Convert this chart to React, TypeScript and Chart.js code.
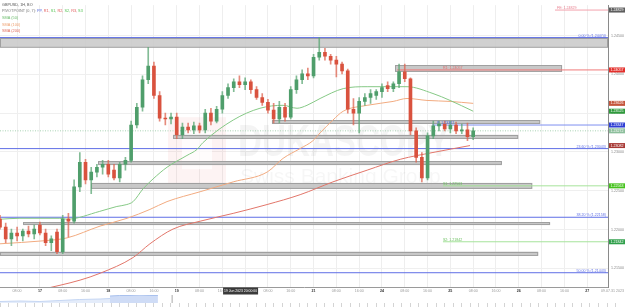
import React, { useEffect, useRef } from 'react';
import { Chart, registerables } from 'chart.js';
Chart.register(...registerables);

// ---- candles (2-hour steps, t in hours from left edge) ----
const candleTime = [0,2,4,6,8,10,12,14,16,18,20,22,24,26,28,30,32,34,36,38,40,42,44,46,48,50,52,54,56,58,60,62,64,66,68,70,72,74,76,78,80,82,84,86,88,90,92,94,96,98,100,102,104,106,108,110,112,114,116,118,120,122,124,126,128,130,132,134,136,138,140,142,144,146,148,150,152,154,156,158,160,162,164,166];
const candleOpen = [
1.22133,1.22031,1.21879,1.21955,1.21917,1.21980,1.21943,1.22057,1.21955,1.21829,1.21968,1.21715,
1.22133,1.22107,1.22550,1.22867,1.22639,1.22740,1.22803,1.22841,1.22765,1.22664,1.22841,1.22892,
1.23347,1.23576,1.23930,1.24107,1.23727,1.23436,1.23424,1.23449,1.23221,1.23322,1.23284,1.23335,
1.23284,1.23500,1.23398,1.23550,1.23727,1.23829,1.23905,1.23867,1.23905,1.23803,1.23702,1.23639,
1.23538,1.23424,1.23576,1.23449,1.23803,1.23930,1.24006,1.23981,1.24221,1.24284,1.24234,1.24183,
1.24132,1.24044,1.23550,1.23500,1.23651,1.23702,1.23727,1.23778,1.23854,1.23816,1.23879,1.24031,
1.23943,1.23272,1.22930,1.22664,1.23208,1.23335,1.23360,1.23297,1.23347,1.23272,1.23284,1.23196];
const candleHigh = [
1.22183,1.22082,1.22006,1.22031,1.22006,1.22044,1.22057,1.22095,1.22006,1.21917,1.22006,1.22183,
1.22208,1.22639,1.22993,1.22905,1.22803,1.22841,1.22892,1.22892,1.22841,1.22867,1.22930,1.23398,
1.23626,1.23981,1.24348,1.24158,1.23778,1.23500,1.23500,1.23500,1.23373,1.23373,1.23386,1.23373,
1.23550,1.23563,1.23588,1.23778,1.23879,1.23943,1.23981,1.23955,1.23930,1.23841,1.23753,1.23677,
1.23626,1.23651,1.23626,1.23841,1.23981,1.24057,1.24082,1.24259,1.24474,1.24335,1.24259,1.24234,
1.24158,1.24069,1.23689,1.23702,1.23753,1.23803,1.23803,1.23879,1.23905,1.23905,1.24132,1.24132,
1.23955,1.23310,1.22993,1.23246,1.23398,1.23398,1.23398,1.23398,1.23386,1.23360,1.23373,1.23310];
const candleLow = [
1.22006,1.21829,1.21791,1.21854,1.21854,1.21905,1.21879,1.21930,1.21791,1.21727,1.21690,1.21690,
1.21905,1.22082,1.22487,1.22588,1.22461,1.22677,1.22715,1.22677,1.22639,1.22614,1.22765,1.22867,
1.23310,1.23525,1.23879,1.23689,1.23398,1.23347,1.23360,1.23170,1.23170,1.23246,1.23234,1.23246,
1.23246,1.23347,1.23373,1.23500,1.23689,1.23778,1.23829,1.23803,1.23753,1.23677,1.23601,1.23500,
1.23373,1.23373,1.23398,1.23424,1.23753,1.23879,1.23930,1.23955,1.24183,1.24183,1.24132,1.23968,
1.24006,1.23500,1.23347,1.23246,1.23601,1.23626,1.23677,1.23702,1.23778,1.23778,1.23829,1.23905,
1.23221,1.22867,1.22614,1.22639,1.23170,1.23272,1.23272,1.23246,1.23234,1.23234,1.23145,1.23158];
const candleClose = [
1.22031,1.21879,1.21955,1.21917,1.21980,1.21943,1.22006,1.21955,1.21829,1.21879,1.21715,1.22133,
1.22107,1.22550,1.22867,1.22639,1.22740,1.22803,1.22841,1.22715,1.22664,1.22841,1.22892,1.23347,
1.23576,1.23930,1.24107,1.23727,1.23436,1.23424,1.23449,1.23221,1.23322,1.23284,1.23335,1.23284,
1.23500,1.23398,1.23550,1.23727,1.23829,1.23905,1.23867,1.23905,1.23803,1.23702,1.23639,1.23538,
1.23424,1.23576,1.23449,1.23803,1.23930,1.24006,1.23981,1.24221,1.24284,1.24234,1.24183,1.24132,
1.24044,1.23550,1.23500,1.23651,1.23702,1.23753,1.23778,1.23829,1.23816,1.23879,1.24031,1.23943,
1.23272,1.22930,1.22664,1.23208,1.23335,1.23360,1.23297,1.23347,1.23272,1.23284,1.23196,1.23272];

// ---- moving averages ----
const sma50Time = [0,7,21,23.5,35,41,44.5,46.7,50.2,53.7,58.6,65.6,69.1,71.2,81.8,91.2,99.3,104.2,107.7,112.3,120.4,128.8,139.3,142.8,151.9,157.9,166];
const sma50Value = [1.22133,1.22145,1.22145,1.22133,1.22234,1.22297,1.22322,1.22360,1.22525,1.22652,1.22803,1.22955,1.23032,1.23120,1.23411,1.23563,1.23601,1.23563,1.23601,1.23689,1.23816,1.23841,1.23841,1.23841,1.23753,1.23664,1.23525];
const sma100Time = [0,15.1,23.5,35.1,44.6,52.6,58.6,70.2,81.8,93.7,99.3,105.3,109.8,112.3,116.8,120.4,128.8,137.9,142.8,149.8,157.9,166];
const sma100Value = [1.21816,1.21854,1.21892,1.22044,1.22145,1.22259,1.22360,1.22487,1.22614,1.22740,1.22917,1.23044,1.23145,1.23246,1.23411,1.23525,1.23601,1.23651,1.23689,1.23664,1.23651,1.23626];
const sma200Time = [14,28.1,35.1,46.7,52.6,60.7,70.2,81.8,93.7,105.3,116.8,128.8,140.4,151.9,164.9];
const sma200Value = [1.21221,1.21348,1.21436,1.21639,1.21816,1.22006,1.22107,1.22208,1.22322,1.22449,1.22614,1.22765,1.22905,1.22993,1.23082];

// ---- support / resistance zones ----
const bandStart = [0,138.6,95.4,60.7,34.4,31.9,8.1,0];
const bandEnd = [213.3,197.2,189.5,181.8,176.1,186.7,193.0,188.8];
const bandHigh = [1.24474,1.24120,1.23411,1.23221,1.22880,1.22601,1.22095,1.21715];
const bandLow = [1.24348,1.24031,1.23360,1.23170,1.22830,1.22525,1.22057,1.21664];

// ---- fibonacci levels ----
const fibValues = [1.24474,1.23043,1.22158,1.21443];
const fibNames = ['0.00 %','23.60 %','38.20 %','50.00 %'];

// ---- pivot levels ----
const pivotNames = ['FE','R1','P','S1','S2'];
const pivotValues = [1.24829,1.24057,1.23347,1.22563,1.21842];
const pivotStart = [194.7,139.3,151.6,155.4,155.4];
const pivotLabelAt = [195.4,155.4,153.3,155.4,155.4];
const pivotColors = ['#f3a3ae','#f07a7a','#7f8ff0','#a6e39a','#a6e39a'];
const pivotTextColors = ['#e88090','#e06a6a','#5a6ee0','#6cc060','#6cc060'];

// ---- axis ticks ----
const yTickValues = [1.215,1.22,1.225,1.23,1.235,1.24,1.245];
const xTickValues = [6,14,22,30,38,46,54,62,70,78,86,94,102,110,118,126,134,142,150,158,166,174,182,190,198,206];
const xTickLabels = ['08:00','17','08:00','16:00','18','08:00','16:00','19','08:00','16:00','20','08:00','16:00','21','08:00','16:00','24','08:00','16:00','25','08:00','16:00','26','08:00','16:00','27'];

// ---- navigator ----
const navTimeA = [0,7,14,21,28,35.1,38.6];
const navLevelA = [1.5,2,1.5,2.5,3.5,4,4.5];
const navTimeB = [38.6,42,45.6,49.1,52.6,55.4];
const navLevelB = [7,7.5,7.5,8,7.5,7.5];
const navMarker = 60.4;

const FONT = "'Liberation Sans', Arial, sans-serif";
const GREEN = '#4f9e6b';
const RED = '#d9523e';
const SMA50C = '#86c986';
const SMA100C = '#f2ab80';
const SMA200C = '#e2766a';
const FIBC = '#5f6fe6';

const xyPairs = (ts: number[], vs: number[]) => ts.map((t, i) => ({ x: t, y: vs[i] }));
const hLine = (x0: number, x1: number, v: number, color: string, order: number, dash?: number[]) => ({
  type: 'line' as const,
  data: [{ x: x0, y: v }, { x: x1, y: v }],
  borderColor: color,
  borderWidth: 1,
  borderDash: dash || [],
  pointRadius: 0,
  order,
});

const isUp = (i: number) => i === undefined || candleClose[i] >= candleOpen[i];

const overlay = {
  id: 'overlay',
  beforeDatasetsDraw(chart: any) {
    const { ctx, chartArea: ca, scales } = chart;
    const x = scales.x, y = scales.y;
    ctx.save();
    ctx.beginPath();
    ctx.rect(ca.left, ca.top, ca.right - ca.left, ca.bottom - ca.top);
    ctx.clip();
    // watermark
    ctx.fillStyle = 'rgba(226,90,80,0.07)';
    ctx.fillRect(ca.left + 168, ca.top + 112, 58, 66);
    ctx.fillStyle = 'rgba(255,255,255,0.75)';
    ctx.fillRect(ca.left + 182, ca.top + 126, 30, 38);
    ctx.fillStyle = 'rgba(0,0,0,0.045)';
    ctx.font = `bold 44px ${FONT}`;
    ctx.textBaseline = 'alphabetic';
    ctx.textAlign = 'left';
    ctx.fillText('DUKASCOPY', ca.left + 238, ca.top + 151, 212);
    ctx.fillStyle = 'rgba(0,0,0,0.035)';
    ctx.font = `21px ${FONT}`;
    ctx.fillText('Swiss Banking Group', ca.left + 240, ca.top + 178, 210);
    // zones
    for (let i = 0; i < bandStart.length; i++) {
      const x0 = x.getPixelForValue(bandStart[i]);
      const x1 = x.getPixelForValue(bandEnd[i]);
      const y0 = y.getPixelForValue(bandHigh[i]);
      const y1 = y.getPixelForValue(bandLow[i]);
      ctx.fillStyle = i === 0 ? 'rgba(200,200,200,0.85)' : 'rgba(190,190,190,0.85)';
      ctx.fillRect(x0, y0, x1 - x0, y1 - y0);
      ctx.strokeStyle = '#a0a0a0';
      ctx.lineWidth = 1;
      ctx.strokeRect(Math.round(x0) + 0.5, Math.round(y0) + 0.5, x1 - x0 - 1, Math.max(1, y1 - y0 - 1));
    }
    ctx.restore();
  },
  afterDatasetsDraw(chart: any) {
    const { ctx, chartArea: ca, scales } = chart;
    const x = scales.x, y = scales.y;
    ctx.save();
    ctx.textBaseline = 'alphabetic';
    // fib labels
    ctx.font = `3.6px ${FONT}`;
    ctx.textAlign = 'right';
    ctx.fillStyle = FIBC;
    fibValues.forEach((v, i) => {
      ctx.fillText(`${fibNames[i]} (${v.toFixed(5)})`, ca.right - 2, y.getPixelForValue(v) - 1);
    });
    // pivot labels
    ctx.textAlign = 'left';
    pivotValues.forEach((v, i) => {
      ctx.fillStyle = pivotTextColors[i];
      ctx.fillText(`${pivotNames[i]}: ${v.toFixed(5)}`, x.getPixelForValue(pivotLabelAt[i]), y.getPixelForValue(v) - 1);
    });
    // legend
    ctx.font = `3.8px ${FONT}`;
    ctx.textBaseline = 'middle';
    let lx = ca.left + 2;
    ctx.fillStyle = '#555';
    ctx.fillText('GBPUSD, 1H, BO', lx, 5);
    const parts: [string, string][] = [
      ['PIVOTPOINT (0, 7): ', '#777'], ['PP, ', '#5a6ee0'], ['R1, ', '#e05a5a'], ['S1, ', '#55c455'],
      ['R2, ', '#e05a5a'], ['S2, ', '#55c455'], ['R3, ', '#e05a5a'], ['S3', '#55c455'],
    ];
    parts.forEach(([t, c]) => {
      ctx.fillStyle = c;
      ctx.fillText(t, lx, 11);
      lx += ctx.measureText(t).width;
    });
    ctx.fillStyle = '#6cbc6c';
    ctx.fillText('SMA (50)', ca.left + 2, 18);
    ctx.fillStyle = '#eea070';
    ctx.fillText('SMA (100)', ca.left + 2, 24.5);
    ctx.fillStyle = '#e06a5a';
    ctx.fillText('SMA (200)', ca.left + 2, 30.5);
    // price tags on the right axis
    const lastClose = candleClose[candleClose.length - 1];
    const tags: [number, string][] = [
      [pivotValues[0], '#5e5e5e'],
      [pivotValues[1], '#e3302c'],
      [sma100Value[sma100Value.length - 1], '#c4553c'],
      [sma50Value[sma50Value.length - 1], '#2f9a3c'],
      [pivotValues[2], '#3040d4'],
      [lastClose, '#8dbf9c'],
      [sma200Value[sma200Value.length - 1], '#a83a36'],
      [pivotValues[3], '#46c21e'],
      [pivotValues[4], '#2f9f4a'],
    ];
    ctx.font = `3.6px ${FONT}`;
    ctx.textBaseline = 'middle';
    tags.forEach(([v, c]) => {
      const py = y.getPixelForValue(v);
      ctx.fillStyle = c;
      ctx.fillRect(ca.right + 1, py - 2.5, 16, 5);
      ctx.fillStyle = '#fff';
      ctx.fillText(v.toFixed(5), ca.right + 2.5, py);
    });
    // crosshair time box
    const cx = x.getPixelForValue(84.4);
    ctx.fillStyle = '#3a3a3a';
    ctx.fillRect(cx - 17.5, ca.bottom + 0.5, 35, 7);
    ctx.fillStyle = '#fff';
    ctx.textAlign = 'center';
    ctx.fillText('19 Jun 2023 20:00:00', cx, ca.bottom + 4, 33);
    // corner date
    ctx.fillStyle = '#999';
    ctx.textAlign = 'right';
    ctx.fillText('09.07.31 2023', 624, ca.bottom + 4);
    ctx.restore();
  },
};

export default function App() {
  const mainRef = useRef<HTMLCanvasElement>(null);
  const navRef = useRef<HTMLCanvasElement>(null);

  useEffect(() => {
    document.body.style.margin = '0';
    const lastClose = candleClose[candleClose.length - 1];
    const datasets: any[] = [
      {
        type: 'bar',
        data: candleTime.map((t, i) => ({ x: t, y: [candleOpen[i], candleClose[i]] })),
        backgroundColor: (c: any) => (isUp(c.dataIndex) ? GREEN : RED),
        barThickness: 3,
        minBarLength: 1,
        grouped: false,
        order: 0,
      },
      {
        type: 'bar',
        data: candleTime.map((t, i) => ({ x: t, y: [candleLow[i], candleHigh[i]] })),
        backgroundColor: (c: any) => (isUp(c.dataIndex) ? 'rgba(90,165,115,0.75)' : 'rgba(222,100,80,0.75)'),
        barThickness: 1,
        grouped: false,
        order: 1,
      },
      { type: 'line', data: xyPairs(sma50Time, sma50Value), borderColor: SMA50C, borderWidth: 1, pointRadius: 0, cubicInterpolationMode: 'monotone', order: 2 },
      { type: 'line', data: xyPairs(sma100Time, sma100Value), borderColor: SMA100C, borderWidth: 1, pointRadius: 0, cubicInterpolationMode: 'monotone', order: 2 },
      { type: 'line', data: xyPairs(sma200Time, sma200Value), borderColor: SMA200C, borderWidth: 1, pointRadius: 0, cubicInterpolationMode: 'monotone', order: 2 },
      ...fibValues.map((v) => hLine(0, 213.3, v, FIBC, 4)),
      ...pivotValues.map((v, i) => hLine(pivotStart[i], 213.3, v, pivotColors[i], 3)),
      hLine(0, 213.3, lastClose, '#a9d3b4', 3, [1, 1.5]),
    ];

    const main = new Chart(mainRef.current as HTMLCanvasElement, {
      type: 'bar',
      data: { datasets },
      plugins: [overlay],
      options: {
        animation: false,
        responsive: false,
        devicePixelRatio: 1,
        events: [],
        layout: { padding: 0 },
        plugins: { legend: { display: false }, tooltip: { enabled: false } },
        scales: {
          x: {
            type: 'linear',
            min: 0,
            max: 213.3,
            offset: false,
            afterBuildTicks: (s: any) => { s.ticks = xTickValues.map((v) => ({ value: v })); },
            afterFit: (s: any) => { s.height = 8; },
            ticks: {
              autoSkip: false,
              maxRotation: 0,
              padding: 1.5,
              callback: (_v: any, i: number) => xTickLabels[i],
              font: (c: any) => ({ size: 3.6, family: FONT, weight: /^\d\d$/.test(xTickLabels[c.index] || '') ? 'bold' : 'normal' }),
              color: (c: any) => (/^\d\d$/.test(xTickLabels[c.index] || '') ? '#333' : '#999'),
            },
            grid: { color: '#eeeeee', drawTicks: false, offset: false },
            border: { color: '#9a9a9a' },
          },
          y: {
            type: 'linear',
            position: 'right',
            min: 1.21259,
            max: 1.24892,
            afterBuildTicks: (s: any) => { s.ticks = yTickValues.map((v) => ({ value: v })); },
            afterFit: (s: any) => { s.width = 17; },
            ticks: {
              padding: 3,
              callback: (v: any) => Number(v).toFixed(5),
              font: { size: 3.6, family: FONT },
              color: '#888',
            },
            grid: { color: '#efefef', drawTicks: false },
            border: { color: '#8a8a8a' },
          },
        },
      } as any,
    });

    const nav = new Chart(navRef.current as HTMLCanvasElement, {
      type: 'line',
      data: {
        datasets: [
          { data: xyPairs(navTimeA, navLevelA), borderColor: '#c5d6f3', borderWidth: 1, backgroundColor: '#e4ecfa', fill: 'start', pointRadius: 0 },
          { data: xyPairs(navTimeB, navLevelB), borderColor: '#a9c1ee', borderWidth: 1, backgroundColor: '#cfdcf6', fill: 'start', pointRadius: 0 },
          { data: [{ x: navMarker, y: 0 }, { x: navMarker, y: 8 }], borderColor: '#aaaaaa', borderWidth: 1, pointRadius: 0 },
        ],
      },
      options: {
        animation: false,
        responsive: false,
        devicePixelRatio: 1,
        events: [],
        layout: { padding: 0 },
        plugins: { legend: { display: false }, tooltip: { enabled: false } },
        scales: {
          x: {
            type: 'linear',
            min: 0,
            max: 219.3,
            ticks: { display: false, stepSize: 3 },
            grid: { drawOnChartArea: false, drawTicks: true, tickLength: 4, color: '#d4d4d4' },
            border: { display: false },
            afterFit: (s: any) => { s.height = 4; },
          },
          y: { display: false, min: 0, max: 8 },
        },
      } as any,
    });

    return () => { main.destroy(); nav.destroy(); };
  }, []);

  return (
    <div style={{ position: 'fixed', left: 0, top: 0, width: 625, height: 307, background: '#fff' }}>
      <canvas ref={mainRef} width={625} height={295} style={{ display: 'block' }} />
      <canvas ref={navRef} width={625} height={12} style={{ display: 'block' }} />
    </div>
  );
}
